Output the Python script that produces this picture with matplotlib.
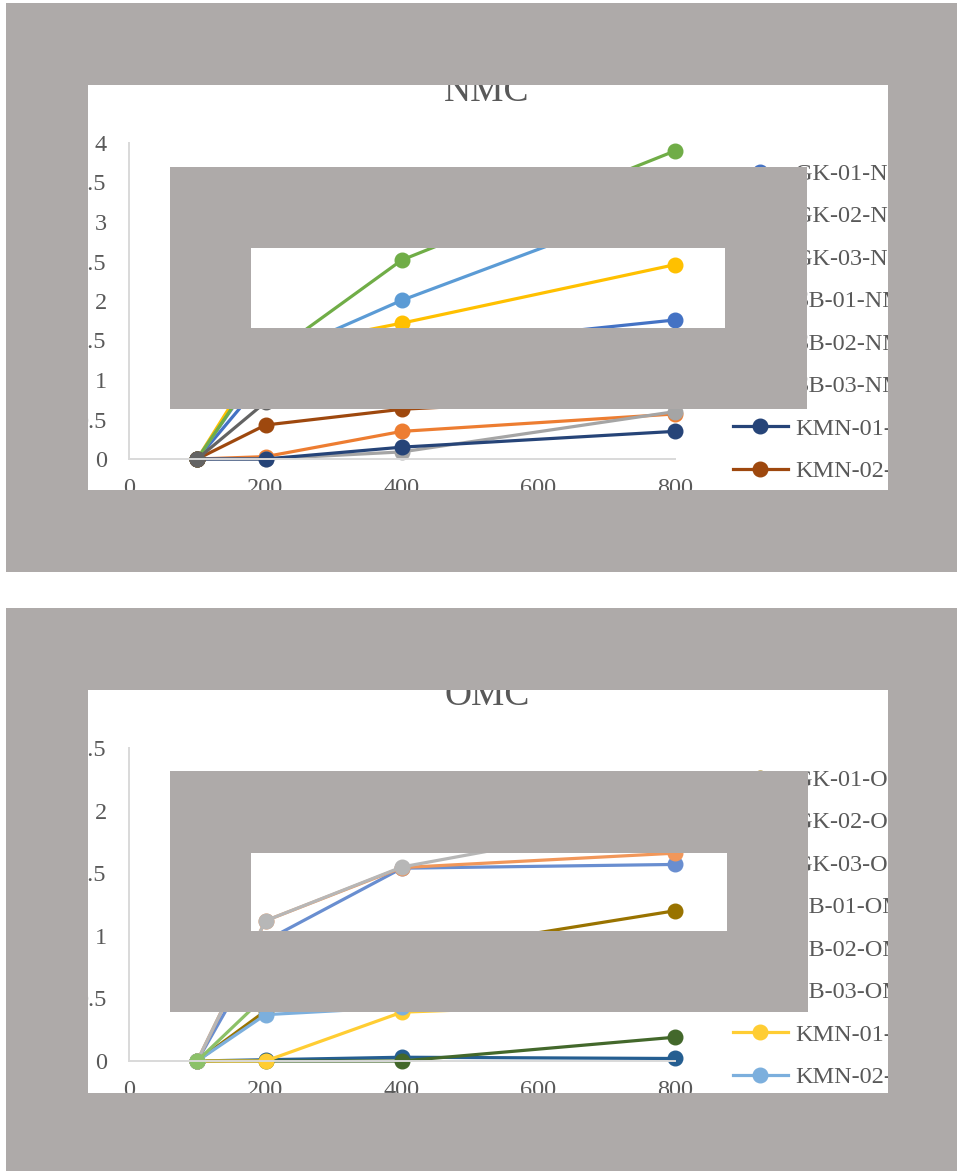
import matplotlib.pyplot as plt
from matplotlib.patches import Rectangle

# -------- DATA --------
x_vals = [100, 200, 400, 800]

# NMC series
gk01_nmc = [0, 1.03, 1.40, 1.76]
gk02_nmc = [0, 0.03, 0.35, 0.57]
gk03_nmc = [0, 0.00, 0.09, 0.60]
sb01_nmc = [0, 1.38, 1.72, 2.46]
sb02_nmc = [0, 1.25, 2.01, 3.30]
sb03_nmc = [0, 1.27, 2.52, 3.90]
kmn01_nmc = [0, 0.00, 0.15, 0.35]
kmn02_nmc = [0, 0.43, 0.63, 0.80]
kmn03_nmc = [0, 0.72, 0.95, 1.20]

# OMC series
gk01_omc = [0, 0.40, 0.85, 1.20]
gk02_omc = [0, 0.01, 0.03, 0.02]
gk03_omc = [0, 0.00, 0.00, 0.19]
sb01_omc = [0, 0.96, 1.54, 1.57]
sb02_omc = [0, 1.12, 1.545, 1.66]
sb03_omc = [0, 1.12, 1.55, 1.95]
kmn01_omc = [0, 0.00, 0.39, 0.47]
kmn02_omc = [0, 0.37, 0.43, 0.52]
kmn03_omc = [0, 0.52, 0.75, 0.90]

nmc_series = [
    ("GK-01-NMC", gk01_nmc), ("GK-02-NMC", gk02_nmc), ("GK-03-NMC", gk03_nmc),
    ("SB-01-NMC", sb01_nmc), ("SB-02-NMC", sb02_nmc), ("SB-03-NMC", sb03_nmc),
    ("KMN-01-NMC", kmn01_nmc), ("KMN-02-NMC", kmn02_nmc), ("KMN-03-NMC", kmn03_nmc),
]
omc_series = [
    ("GK-01-OMC", gk01_omc), ("GK-02-OMC", gk02_omc), ("GK-03-OMC", gk03_omc),
    ("SB-01-OMC", sb01_omc), ("SB-02-OMC", sb02_omc), ("SB-03-OMC", sb03_omc),
    ("KMN-01-OMC", kmn01_omc), ("KMN-02-OMC", kmn02_omc), ("KMN-03-OMC", kmn03_omc),
]

nmc_colors = ['#4472C4', '#ED7D31', '#A5A5A5', '#FFC000', '#5B9BD5',
              '#70AD47', '#264478', '#9E480E', '#636363']
omc_colors = ['#997300', '#255E91', '#43682B', '#698ED0', '#F1975A',
              '#B7B7B7', '#FFCD33', '#7CAFDD', '#8CC168']

# -------- LAYOUT (pixels) --------
W, H = 957, 1171
TEXT = '#595959'
AXIS = '#D9D9D9'
BOX = '#AEAAA9'

plt.rcParams['font.family'] = ['Liberation Serif', 'DejaVu Serif']


def fx(px):
    return px / W


def fy(py):
    return 1 - py / H


fig = plt.figure(figsize=(W / 100, H / 100), dpi=100)


def draw_chart(top_px, bottom_px, ymax, series, colors, title, title_base, legend_top):
    ax = fig.add_axes([fx(129), fy(bottom_px), (675 - 129) / W, (bottom_px - top_px) / H])
    for (name, vals), c in zip(series, colors):
        ax.plot(x_vals, vals, color=c, lw=2.3, marker='o', markersize=10.5,
                label=name, clip_on=False)
    ax.set_xlim(0, 800)
    ax.set_ylim(0, ymax)
    ax.set_xticks([0, 200, 400, 600, 800])
    yt = [i * 0.5 for i in range(int(ymax / 0.5) + 1)]
    ax.set_yticks(yt)
    ax.set_yticklabels([f"{v:g}" for v in yt])
    for s in ['top', 'right']:
        ax.spines[s].set_visible(False)
    for s in ['left', 'bottom']:
        ax.spines[s].set_color(AXIS)
        ax.spines[s].set_linewidth(1.4)
    ax.tick_params(axis='both', length=0, labelsize=17.5, labelcolor=TEXT)
    ax.tick_params(axis='y', pad=16)
    ax.tick_params(axis='x', pad=14)
    ax.set_facecolor('none')

    fig.text(fx(487), fy(title_base), title, ha='center', va='baseline',
             fontsize=27, color=TEXT)

    ax.legend(loc='upper left', bbox_to_anchor=(fx(733), fy(legend_top)),
              bbox_transform=fig.transFigure, frameon=False, fontsize=17.5,
              handlelength=2.25, handletextpad=0.3, labelspacing=0.84,
              borderpad=0, borderaxespad=0, labelcolor=TEXT)
    return ax


draw_chart(143, 459, 4, nmc_series, nmc_colors, "NMC", 101, 163)
draw_chart(748, 1061, 2.5, omc_series, omc_colors, "OMC", 705, 769)


# -------- GRAY BOXES --------
def frame(x0, y0, x1, y1, hx0, hy0, hx1, hy1):
    strips = [
        (x0, y0, x1, hy0),
        (x0, hy1, x1, y1),
        (x0, hy0, hx0, hy1),
        (hx1, hy0, x1, hy1),
    ]
    for a, b, c, d in strips:
        fig.add_artist(Rectangle((fx(a), fy(d)), (c - a) / W, (d - b) / H,
                                 transform=fig.transFigure, facecolor=BOX,
                                 edgecolor='none', zorder=20))


frame(6, 3, 975, 572, 88, 85, 888, 490)
frame(170, 167, 807, 409, 251, 248, 725, 328)
frame(6, 608, 975, 1180, 88, 690, 888, 1093)
frame(170, 771, 808, 1012, 251, 853, 727, 931)

fig.savefig("out.png", dpi=100)
